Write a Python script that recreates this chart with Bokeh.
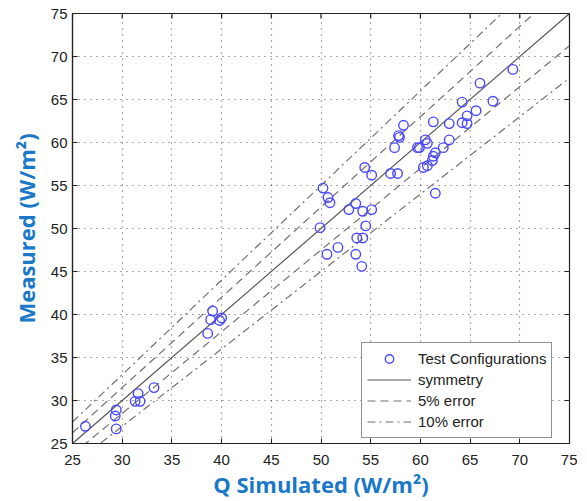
import math
from bokeh.plotting import figure
from bokeh.models import Range1d, Legend, LegendItem, FixedTicker, ColumnDataSource
from bokeh.embed import file_html
from bokeh.resources import INLINE

# Data
q_simulated = [26.3, 29.4, 29.3, 29.4, 31.3, 31.6, 31.8, 33.2, 38.6, 39.1, 38.9, 39.8, 40.0,
               50.2, 50.7, 50.9, 53.5, 52.8, 54.2, 55.1, 49.9, 54.5, 53.6, 54.2, 51.7, 50.6,
               53.5, 54.1, 54.4, 55.1, 57.0, 57.7,
               57.4, 57.8, 57.9, 58.3, 59.7, 59.9, 60.5, 60.7, 61.3, 62.9, 62.9, 62.3, 61.5,
               61.3, 61.2, 60.7, 60.3, 61.5, 64.2, 64.7, 64.7, 65.6, 64.2, 67.3, 66.0, 69.3]
measured = [27.0, 28.9, 28.2, 26.7, 29.9, 30.8, 29.9, 31.5, 37.8, 40.4, 39.4, 39.3, 39.6,
            54.7, 53.6, 53.0, 52.9, 52.2, 52.0, 52.2, 50.1, 50.3, 48.9, 48.9, 47.8, 47.0,
            47.0, 45.6, 57.1, 56.2, 56.4, 56.4,
            59.4, 60.8, 60.6, 62.0, 59.4, 59.4, 60.3, 59.9, 62.4, 62.2, 60.3, 59.4, 58.8,
            58.4, 57.9, 57.3, 57.1, 54.1, 62.3, 62.2, 63.1, 63.7, 64.7, 64.8, 66.9, 68.5]

x_ticks = [25, 30, 35, 40, 45, 50, 55, 60, 65, 70, 75]
y_ticks = [25, 30, 35, 40, 45, 50, 55, 60, 65, 70, 75]
axis_min, axis_max = 25, 75
line_x = [25, 75]
error_5 = 0.05
error_10 = 0.10

BLUE_LABEL = "#1a78c8"
TICK_FONT = "Liberation Sans"
AX = "#222222"

p = figure(frame_width=497, frame_height=430,
           x_range=Range1d(axis_min, axis_max), y_range=Range1d(axis_min, axis_max),
           output_backend="svg", toolbar_location=None,
           min_border_left=72, min_border_right=8, min_border_top=13, min_border_bottom=57)

p.background_fill_color = "white"
p.border_fill_color = "white"
p.outline_line_color = AX
p.outline_line_width = 1.2

# grid
for g in (p.xgrid, p.ygrid):
    g.grid_line_color = "#444444"
    g.grid_line_dash = "1 5"
    g.grid_line_width = 1.2
    g.grid_line_alpha = 0.9
p.xgrid.ticker = FixedTicker(ticks=x_ticks)
p.ygrid.ticker = FixedTicker(ticks=y_ticks)

# main axes
for ax, ticks in ((p.xaxis[0], x_ticks), (p.yaxis[0], y_ticks)):
    ax.ticker = FixedTicker(ticks=ticks)
    ax.major_tick_in = 5
    ax.major_tick_out = 0
    ax.minor_tick_line_color = None
    ax.axis_line_color = AX
    ax.axis_line_width = 1.2
    ax.major_tick_line_color = AX
    ax.major_label_text_font = TICK_FONT
    ax.major_label_text_font_size = "15px"
    ax.major_label_text_color = AX
    ax.axis_label_text_font = "Open Sans"
    ax.axis_label_text_font_style = "bold"
    ax.axis_label_text_font_size = "22px"
    ax.axis_label_text_color = BLUE_LABEL

p.xaxis.axis_label = "Q Simulated (W/m²)"
p.yaxis.axis_label = "Measured (W/m²)"
p.xaxis.major_label_standoff = 11
p.yaxis.major_label_standoff = 5
p.xaxis.axis_label_standoff = 1
p.yaxis.axis_label_standoff = 7

# inward ticks on the top and right edges (clipped to the frame)
p.scatter(x_ticks, [axis_max] * len(x_ticks), marker="dash", size=10,
          angle=math.pi / 2, line_color=AX, line_width=1.2)
p.scatter([axis_max] * len(y_ticks), y_ticks, marker="dash", size=10,
          line_color=AX, line_width=1.2)

# reference lines
sym = p.line(line_x, line_x, line_color="#555555", line_width=1.2)
up5 = p.line(line_x, [v * (1 + error_5) for v in line_x], line_color="#707070",
             line_width=1.2, line_dash="8 5")
lo5 = p.line(line_x, [v * (1 - error_5) for v in line_x], line_color="#707070",
             line_width=1.2, line_dash="8 5")
up10 = p.line(line_x, [v * (1 + error_10) for v in line_x], line_color="#707070",
              line_width=1.2, line_dash="8 4 2 4")
lo10 = p.line(line_x, [v * (1 - error_10) for v in line_x], line_color="#707070",
              line_width=1.2, line_dash="8 4 2 4")

src = ColumnDataSource(data=dict(x=q_simulated, y=measured))
pts = p.scatter("x", "y", source=src, marker="circle", size=9.5,
                fill_color=None, line_color="#4848ff", line_width=1.4)

legend = Legend(items=[
    LegendItem(label="Test Configurations", renderers=[pts]),
    LegendItem(label="symmetry", renderers=[sym]),
    LegendItem(label="5% error", renderers=[up5]),
    LegendItem(label="10% error", renderers=[up10]),
], location=(289, 5))
legend.border_line_color = AX
legend.border_line_width = 1
legend.background_fill_color = "white"
legend.background_fill_alpha = 1
legend.label_text_font = TICK_FONT
legend.label_text_font_size = "15px"
legend.label_text_color = AX
legend.glyph_width = 44
legend.glyph_height = 21
legend.label_height = 21
legend.spacing = 0
legend.padding = 5
legend.label_standoff = 7
legend.margin = 0
p.add_layout(legend)

open("out.html", "w").write(file_html(p, INLINE))
